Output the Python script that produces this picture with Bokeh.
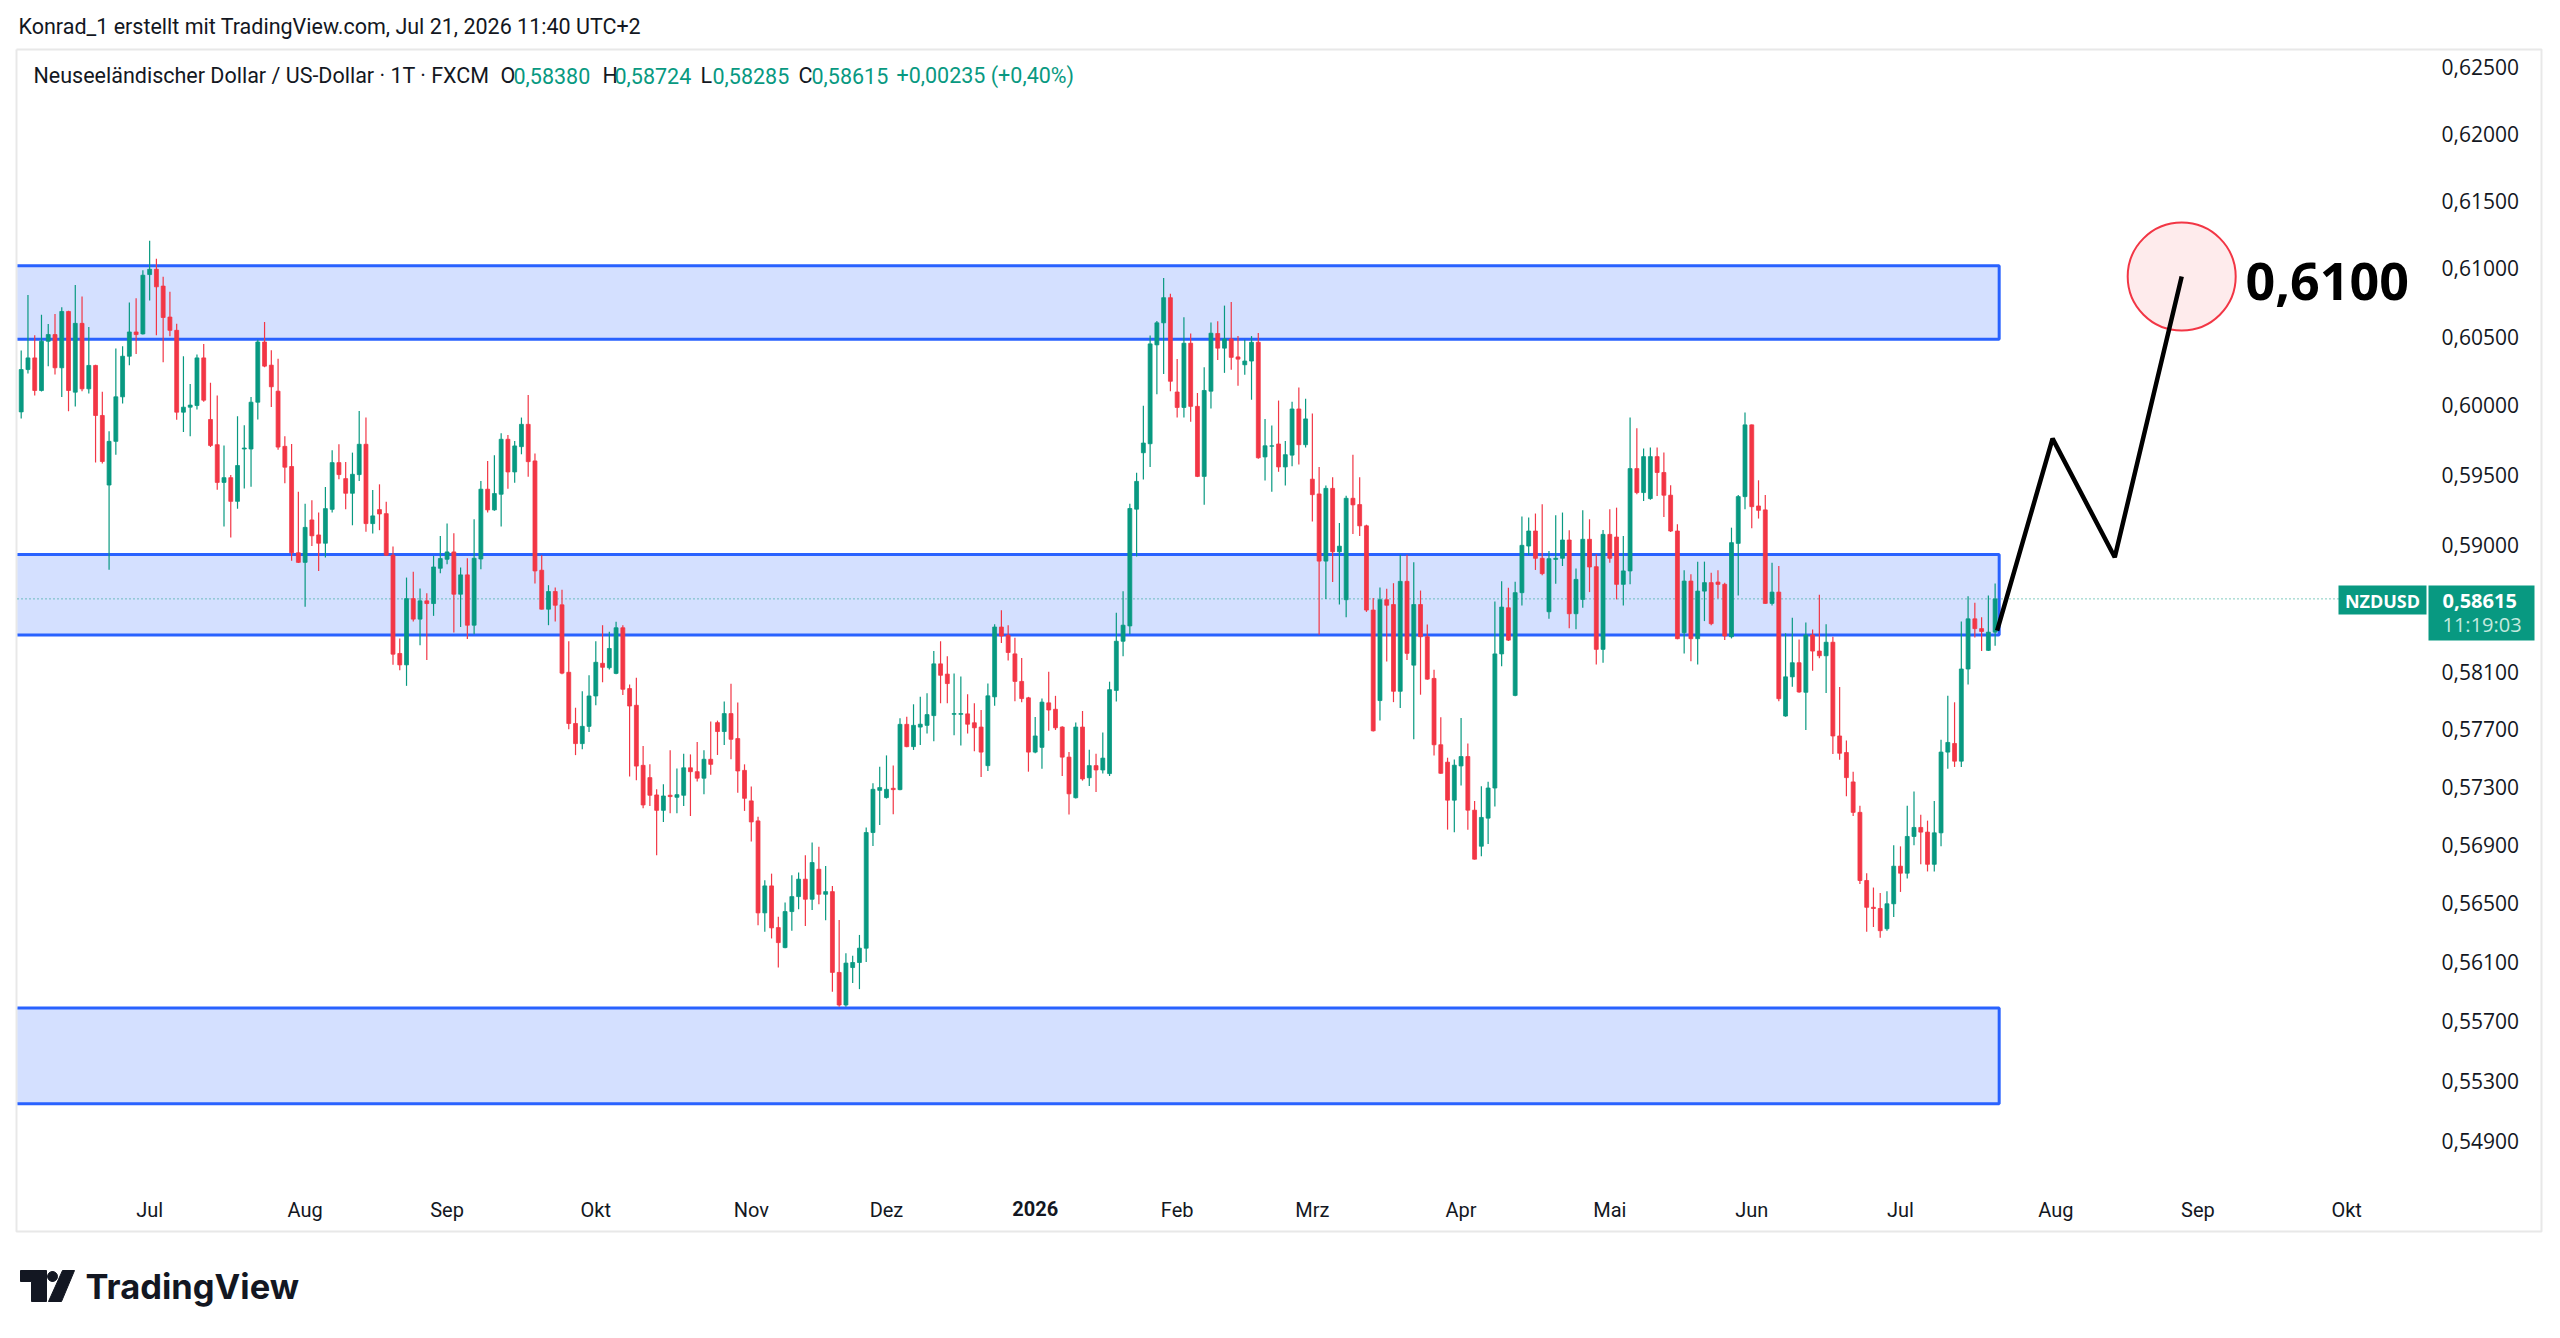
import math
import numpy as np
import pandas as pd
from bokeh.plotting import figure
from bokeh.models import (Range1d, FixedTicker, CustomJSTickFormatter, Label,
                          ColumnDataSource)
from bokeh.embed import file_html
from bokeh.resources import INLINE

# ---------------- data ----------------
first_day = "2025-06-04"
last_day = "2026-07-21"
holidays = ["2025-12-25", "2026-01-01"]
axis_end_day = "2026-10-30"

opens = [
    .59953, .60260, .60345, .60108, .60466, .60515, .60273, .60684, .60096, .60597,
    .60120, .60290, .59927, .59426, .59740, .60062, .60357, .60534, .60520, .60955,
    .60994, .60870, .60643, .60546, .59951, .59987, .59999, .60345, .59898, .59716,
    .59445, .59479, .59309, .59685, .59685, .60023, .60461, .60292, .60103, .59704,
    .59559, .58942, .58874, .59176, .59069, .59010, .59252, .59587, .59472, .59367,
    .59501, .59719, .59150, .59250, .59221, .58925, .58230, .58150, .58617, .58472,
    .58601, .58582, .58832, .58896, .58948, .58648, .58785, .58429, .58898, .59396,
    .59248, .59360, .59755, .59520, .59702, .59863, .59599, .58818, .58542, .58667,
    .58573, .58098, .57740, .57600, .57720, .57932, .58161, .58130, .58090, .58411,
    .57984, .57867, .57449, .57364, .57244, .57138, .57242, .57228, .57242, .57432,
    .57405, .57360, .57491, .57746, .57684, .57809, .57635, .57414, .57203, .57065,
    .56435, .56619, .56335, .56199, .56444, .56546, .56665, .56528, .56733, .56562,
    .56580, .56031, .55811, .56064, .56098, .56195, .56985, .57276, .57226, .57290,
    .57281, .57734, .57579, .57715, .57727, .57795, .58157, .58085, .57804, .57804,
    .57807, .57745, .57715, .57447, .57926, .58416, .58358, .58227, .58034, .57919,
    .57541, .57574, .57884, .57839, .57715, .57506, .57225, .57715, .57363, .57447,
    .57417, .57392, .57971, .58316, .58424, .59253, .59658, .59723, .60440, .60601,
    .60785, .60097, .59985, .60452, .59993, .59488, .60103, .60523, .60416, .60483,
    .60352, .60295, .60322, .60459, .59628, .59705, .59721, .59556, .59641, .59974,
    .59716, .59468, .59362, .58883, .59402, .58949, .58609, .59331, .59286, .59134,
    .58536, .57900, .58609, .58575, .57965, .58739, .58148, .58575, .58348, .58055,
    .57592, .57471, .57208, .57445, .57510, .57139, .56891, .57084, .57292, .58227,
    .58552, .57936, .58659, .58990, .59097, .58903, .58524, .58895, .58903, .59033,
    .58510, .58611, .59038, .58843, .58259, .59073, .59054, .58718, .58813, .59544,
    .59372, .59329, .59630, .59516, .59353, .59097, .58376, .58741, .58334, .58670,
    .58730, .58734, .58718, .58348, .59009, .59343, .59859, .59276, .59248, .58583,
    .58663, .57792, .58066, .58165, .57958, .58360, .58247, .58214, .58309, .57653,
    .57538, .57334, .57124, .56656, .56473, .56465, .56327, .56497, .56754, .56706,
    .56958, .57020, .56988, .56767, .56983, .57541, .57601, .57478, .58121, .58474,
    .58405, .58252, .58380,
]
highs = [
    .60398, .60805, .60510, .60660, .60592, .60665, .60715, .60690, .60878, .60793,
    .60570, .60295, .60098, .59813, .60413, .60430, .60749, .60781, .60987, .61204,
    .61071, .60938, .60829, .60594, .60357, .60156, .60369, .60447, .60164, .60072,
    .59711, .59498, .59922, .59856, .60060, .60478, .60607, .60401, .60338, .59777,
    .59721, .59377, .59292, .59317, .59229, .59412, .59676, .59719, .59592, .59659,
    .59960, .59912, .59391, .59431, .59307, .58986, .58335, .58766, .58808, .58688,
    .58655, .58920, .59062, .59150, .59081, .58837, .58903, .59181, .59455, .59599,
    .59640, .59798, .59786, .59743, .59912, .60076, .59652, .58925, .58712, .58695,
    .58679, .58316, .57850, .57965, .58077, .58316, .58429, .58383, .58454, .58428,
    .58013, .58060, .57583, .57456, .57283, .57318, .57553, .57428, .57530, .57525,
    .57611, .57553, .57753, .57760, .57893, .58018, .57886, .57456, .57302, .57094,
    .56658, .56703, .56408, .56505, .56692, .56710, .56829, .56916, .56888, .56756,
    .56619, .56387, .56161, .56143, .56285, .57020, .57325, .57439, .57518, .57448,
    .57776, .57787, .57874, .57926, .57951, .58248, .58316, .58210, .58089, .58069,
    .57944, .57881, .57834, .58019, .58436, .58535, .58429, .58341, .58198, .57926,
    .57785, .57914, .58102, .57933, .57720, .57541, .57747, .57827, .57558, .57529,
    .57678, .58032, .58517, .58669, .59291, .59514, .59998, .60509, .60614, .60929,
    .60814, .60336, .60641, .60523, .60090, .60276, .60604, .60612, .60727, .60754,
    .60504, .60478, .60504, .60526, .59902, .59854, .60035, .59742, .60027, .60129,
    .60049, .59942, .59556, .59423, .59481, .59155, .59349, .59643, .59481, .59142,
    .58622, .58695, .58687, .58726, .58928, .58928, .58875, .58674, .58434, .58115,
    .57784, .57502, .57489, .57779, .57600, .57203, .57305, .57335, .58596, .58739,
    .58694, .58737, .59200, .59193, .59222, .59288, .58955, .59210, .59229, .59102,
    .58831, .59245, .59181, .58931, .59104, .59252, .59264, .59061, .59912, .59835,
    .59688, .59695, .59695, .59659, .59424, .59145, .58817, .58789, .58879, .58879,
    .58801, .58817, .58730, .59121, .59355, .59948, .59862, .59460, .59355, .58872,
    .58848, .58372, .58482, .58329, .58448, .58398, .58644, .58436, .58348, .57995,
    .57621, .57404, .57169, .56706, .56608, .56571, .56583, .56897, .56890, .57169,
    .57268, .57107, .57067, .57203, .57626, .57933, .57888, .58456, .58634, .58588,
    .58486, .58639, .58724,
]
lows = [
    .59905, .60231, .60072, .60100, .60285, .60224, .60060, .59958, .59992, .60103,
    .60086, .59588, .59580, .58821, .59643, .60014, .60292, .60374, .60515, .60764,
    .60510, .60314, .60503, .59897, .59808, .59777, .59970, .60026, .59699, .59392,
    .59130, .59050, .59256, .59401, .59413, .59898, .60277, .59989, .59680, .59438,
    .58886, .58870, .58559, .58990, .58813, .58908, .59229, .59467, .59252, .59138,
    .59455, .59091, .59079, .59103, .58920, .58150, .58113, .58003, .58455, .58288,
    .58185, .58495, .58797, .58860, .58377, .58417, .58331, .58366, .58825, .59229,
    .59241, .59129, .59400, .59443, .59647, .59486, .58724, .58540, .58429, .58455,
    .58085, .57700, .57520, .57560, .57680, .57867, .58028, .58118, .58085, .57939,
    .57371, .57346, .57152, .57168, .56829, .57058, .57117, .57117, .57168, .57099,
    .57337, .57249, .57383, .57521, .57590, .57491, .57260, .57134, .56923, .56351,
    .56306, .56261, .56064, .56195, .56313, .56460, .56346, .56455, .56494, .56385,
    .55900, .55800, .55800, .55959, .55918, .56102, .56893, .57037, .57219, .57111,
    .57276, .57575, .57556, .57591, .57670, .57616, .57881, .57881, .57658, .57586,
    .57670, .57546, .57368, .57410, .57864, .58303, .58181, .57896, .57889, .57405,
    .57533, .57425, .57690, .57695, .57375, .57109, .57220, .57343, .57306, .57264,
    .57392, .57375, .57894, .58210, .58366, .58916, .59465, .59555, .60081, .60228,
    .60103, .59913, .59913, .59882, .59483, .59284, .59977, .60330, .60236, .60258,
    .60143, .60223, .60041, .59614, .59458, .59378, .59521, .59423, .59561, .59574,
    .59695, .59165, .58361, .58614, .58734, .58575, .58486, .59075, .59061, .58523,
    .57685, .57761, .58174, .57889, .57848, .58185, .57630, .57941, .58045, .57518,
    .57390, .57005, .56987, .57310, .57005, .56800, .56822, .56906, .57165, .58141,
    .58317, .57930, .58569, .58924, .58820, .58782, .58475, .58722, .58848, .58407,
    .58400, .58552, .58663, .58153, .58165, .58872, .58611, .58569, .58718, .59360,
    .59312, .59320, .59348, .59198, .59090, .58330, .58230, .58176, .58153, .58458,
    .58428, .58618, .58324, .58336, .58639, .59252, .59116, .59186, .58580, .58569,
    .57896, .57787, .57997, .57955, .57695, .58109, .58196, .57953, .57528, .57488,
    .57235, .57099, .56632, .56307, .56339, .56266, .56314, .56407, .56578, .56669,
    .56897, .56767, .56718, .56718, .56890, .57426, .57438, .57438, .58013, .58343,
    .58247, .58247, .58285,
]
closes = [
    .60260, .60345, .60108, .60466, .60515, .60273, .60684, .60108, .60597, .60120,
    .60290, .59927, .59595, .59740, .60062, .60357, .60534, .60515, .60950, .60994,
    .60865, .60640, .60546, .59951, .59987, .60002, .60345, .60038, .59711, .59445,
    .59479, .59309, .59566, .59692, .60023, .60461, .60285, .60135, .59699, .59554,
    .58942, .58874, .59123, .59063, .59010, .59257, .59587, .59501, .59367, .59503,
    .59719, .59150, .59205, .59219, .58925, .58225, .58150, .58617, .58472, .58601,
    .58582, .58841, .58901, .58948, .58648, .58785, .58429, .58903, .59396, .59248,
    .59365, .59755, .59520, .59707, .59863, .59594, .58813, .58542, .58667, .58570,
    .58092, .57740, .57600, .57720, .57932, .58168, .58133, .58265, .58411, .57979,
    .57862, .57444, .57175, .57242, .57138, .57237, .57233, .57246, .57432, .57405,
    .57360, .57491, .57456, .57684, .57809, .57630, .57410, .57221, .57058, .56435,
    .56619, .56333, .56233, .56444, .56546, .56665, .56528, .56779, .56562, .56580,
    .56031, .55811, .56094, .56098, .56195, .56985, .57283, .57295, .57283, .57281,
    .57734, .57579, .57727, .57735, .57802, .58157, .58077, .58019, .57809, .57809,
    .57735, .57710, .57541, .57933, .58416, .58353, .58237, .58034, .57914, .57541,
    .57653, .57889, .57834, .57710, .57506, .57252, .57715, .57355, .57447, .57417,
    .57499, .57976, .58316, .58429, .59258, .59452, .59728, .60447, .60601, .60785,
    .60175, .59985, .60452, .59993, .59488, .60108, .60525, .60416, .60483, .60349,
    .60336, .60322, .60459, .59622, .59708, .59708, .59556, .59644, .59974, .59716,
    .59902, .59357, .58883, .59402, .58949, .58989, .59331, .59284, .59134, .58536,
    .57689, .58609, .58570, .57965, .58739, .58231, .58575, .58348, .58050, .57592,
    .57394, .57208, .57450, .57510, .57139, .56802, .57089, .57292, .58227, .58557,
    .58324, .58659, .58995, .59097, .58903, .58794, .58900, .58903, .59033, .58510,
    .58753, .59038, .58841, .58259, .59073, .58903, .58718, .58813, .59544, .59372,
    .59630, .59630, .59516, .59353, .59097, .58334, .58741, .58334, .58670, .58730,
    .58440, .58718, .58353, .59014, .59343, .59859, .59271, .59245, .58583, .58663,
    .57913, .58066, .58165, .57960, .58360, .58247, .58214, .58309, .57653, .57533,
    .57364, .57124, .56656, .56473, .56465, .56314, .56497, .56754, .56706, .56958,
    .57020, .56988, .56767, .56983, .57541, .57608, .57478, .58121, .58474, .58405,
    .58385, .58380, .58615,
]

price_ticks = [0.625, 0.620, 0.615, 0.610, 0.605, 0.600, 0.595, 0.590,
               0.581, 0.577, 0.573, 0.569, 0.565, 0.561, 0.557, 0.553, 0.549]
month_names = {1: "2026", 2: "Feb", 3: "Mrz", 4: "Apr", 5: "Mai", 6: "Jun",
               7: "Jul", 8: "Aug", 9: "Sep", 10: "Okt", 11: "Nov", 12: "Dez"}

zone_tops = [0.6102, 0.5893, 0.5579]
zone_bottoms = [0.6048, 0.5836, 0.5515]
zone_end_bar = 292.6

projection_bars = [292.3, 300.5, 309.7, 319.6]
projection_prices = [0.5839, 0.5976, 0.5891, 0.6094]
target_text = "0,6100"
last_price = 0.58615
last_price_text = "0,58615"
countdown_text = "11:19:03"
symbol_text = "NZDUSD"

title_text = "Konrad_1 erstellt mit TradingView.com, Jul 21, 2026 11:40 UTC+2"
legend_texts = ["Neuseeländischer Dollar / US-Dollar · 1T · FXCM",
                "O", "0,58380", "H", "0,58724", "L", "0,58285", "C", "0,58615",
                "+0,00235 (+0,40%)"]
legend_is_value = [False, False, True, False, True, False, True, False, True, True]

# ---------------- dates / axis ticks ----------------
trade_days = pd.bdate_range(first_day, last_day)
trade_days = trade_days[~trade_days.isin(pd.to_datetime(holidays))]
future_days = pd.bdate_range(pd.Timestamp(last_day) + pd.Timedelta(days=1), axis_end_day)
all_days = trade_days.append(future_days)
n = len(opens)
month_idx, month_lab = [], []
for i in range(1, len(all_days)):
    if all_days[i].month != all_days[i - 1].month:
        month_idx.append(i)
        month_lab.append(month_names[all_days[i].month])

# ---------------- layout (pixel geometry of the page) ----------------
W, H = 2560, 1338
BAR0_PX, BAR_PX = 20.7, 6.76          # screen x of bar 0, px per bar
LOG_A, LOG_K = -3827.3, 8285.0        # screen y = LOG_A - LOG_K * ln(price)
GREEN, RED, TXT = "#089981", "#f23645", "#131722"

def X(px):
    return (px - BAR0_PX) / BAR_PX

def Y(py):
    return math.exp(-(py - LOG_A) / LOG_K)

p = figure(width=W, height=H, output_backend="svg", toolbar_location=None,
           y_axis_type="log", y_axis_location="right",
           x_range=Range1d(X(0), X(W)), y_range=Range1d(Y(H), Y(0)),
           min_border_left=0, min_border_right=0, min_border_top=0, min_border_bottom=0)
p.outline_line_color = None
p.xgrid.visible = False
p.ygrid.visible = False
p.background_fill_color = "white"
p.border_fill_color = "white"

# chart box border
box_l, box_r, box_t, box_b = 16, 2541, 49, 1231
p.multi_line(xs=[[X(box_l), X(box_r), X(box_r), X(box_l), X(box_l)]],
             ys=[[Y(box_t), Y(box_t), Y(box_b), Y(box_b), Y(box_t)]],
             line_color="#e8e8e8", line_width=2)

# zones
zl = X(17)
p.quad(left=[zl] * 3, right=[zone_end_bar] * 3, top=zone_tops, bottom=zone_bottoms,
       fill_color="#2962ff", fill_alpha=0.2, line_color=None)
zx, zy = [], []
for t, b in zip(zone_tops, zone_bottoms):
    zx.append([zl, zone_end_bar, zone_end_bar, zl])
    zy.append([t, t, b, b])
p.multi_line(xs=zx, ys=zy, line_color="#2962ff", line_width=3)

# current price dotted line
p.segment(x0=[zl], y0=[last_price], x1=[X(2338)], y1=[last_price],
          line_color=GREEN, line_width=1, line_dash="1 3")

# candles
x = np.arange(n)
o = np.array(opens); c = np.array(closes)
cols = [GREEN if cc >= oo else RED for oo, cc in zip(o, c)]
src = ColumnDataSource(dict(x=x, top=np.maximum(o, c), bottom=np.minimum(o, c),
                            high=highs, low=lows, color=cols))
p.segment(x0="x", y0="low", x1="x", y1="high", color="color", line_width=1.2, source=src)
p.vbar(x="x", width=0.58, top="top", bottom="bottom", fill_color="color",
       line_color="color", line_width=0.8, source=src)

# projection
p.scatter([projection_bars[-1]], [projection_prices[-1]], marker="circle", size=108,
          fill_color=RED, fill_alpha=0.1, line_color=RED, line_width=2)
p.line(projection_bars, projection_prices, line_color="black", line_width=4.5)
p.add_layout(Label(x=X(2245), y=Y(281), text=target_text, text_font="Open Sans",
                   text_font_style="bold", text_font_size="52px", text_color="black",
                   text_baseline="middle", text_align="left"))

# axes (drawn at fixed locations inside the canvas)
p.xaxis.fixed_location = Y(1190)
p.yaxis.fixed_location = X(2428)
p.xaxis.ticker = FixedTicker(ticks=[i for i, l in zip(month_idx, month_lab) if l != "2026"],
                             minor_ticks=[])
p.xaxis.major_label_overrides = {i: l for i, l in zip(month_idx, month_lab)}
p.yaxis.ticker = FixedTicker(ticks=price_ticks, minor_ticks=[])
p.yaxis.formatter = CustomJSTickFormatter(code="return tick.toFixed(5).replace('.', ',');")
for ax in (p.xaxis[0], p.yaxis[0]):
    ax.axis_line_color = None
    ax.major_tick_line_color = None
    ax.minor_tick_line_color = None
    ax.major_tick_out = 0
    ax.major_tick_in = 0
    ax.minor_tick_out = 0
    ax.minor_tick_in = 0
    ax.major_label_text_color = TXT
p.xaxis.major_label_text_font = "Roboto"
p.xaxis.major_label_text_font_size = "20px"
p.xaxis.major_label_standoff = 7
p.yaxis.major_label_text_font = "Open Sans"
p.yaxis.major_label_text_font_size = "21px"
p.yaxis.major_label_standoff = 13

# bold year label on the time axis
for i, l in zip(month_idx, month_lab):
    if l == "2026":
        p.add_layout(Label(x=i, y=Y(1200), text=l, text_font="Roboto",
                           text_font_style="bold", text_font_size="20px",
                           text_color=TXT, text_align="center", text_baseline="top"))

# title & legend line
p.add_layout(Label(x=X(18), y=Y(26), text=title_text, text_font="Roboto",
                   text_font_size="21.5px", text_color=TXT, text_baseline="middle"))
legend_px = [33, 500, 513, 602, 614, 700, 712, 798, 811, 896]
for txt, isval, lx in zip(legend_texts, legend_is_value, legend_px):
    p.add_layout(Label(x=X(lx), y=Y(75), text=txt, text_font="Roboto",
                       text_font_size="21.5px", text_color=GREEN if isval else TXT,
                       text_baseline="middle"))

# price tags
p.quad(left=[X(2338)], right=[X(2426)], top=[Y(585)], bottom=[Y(614)],
       fill_color=GREEN, line_color=None)
p.quad(left=[X(2428)], right=[X(2534)], top=[Y(585)], bottom=[Y(640)],
       fill_color=GREEN, line_color=None)
p.add_layout(Label(x=X(2382), y=Y(600), text=symbol_text, text_font="Open Sans",
                   text_font_style="bold", text_font_size="18px", text_color="white",
                   text_align="center", text_baseline="middle"))
p.add_layout(Label(x=X(2442), y=Y(600), text=last_price_text, text_font="Open Sans",
                   text_font_style="bold", text_font_size="20px", text_color="white",
                   text_align="left", text_baseline="middle"))
p.add_layout(Label(x=X(2442), y=Y(624), text=countdown_text, text_font="Open Sans",
                   text_font_size="20px", text_color="#c4e9df",
                   text_align="left", text_baseline="middle"))

# TradingView footer
p.add_layout(Label(x=X(85), y=Y(1286), text="TradingView", text_font="Inter",
                   text_font_style="bold", text_font_size="34.5px",
                   text_color=TXT, text_baseline="middle"))
logo_shapes = [
    [(20, 1270), (46, 1270), (46, 1301), (31, 1301), (31, 1281), (20, 1281)],
    [(52 + 5 * math.cos(a), 1276 + 5 * math.sin(a)) for a in np.linspace(0, 2 * math.pi, 16)],
    [(62, 1270), (74, 1270), (61, 1301), (48, 1301)],
]
p.patches(xs=[[X(a) for a, b in s] for s in logo_shapes],
          ys=[[Y(b) for a, b in s] for s in logo_shapes],
          fill_color=TXT, line_color=TXT, line_width=1)

open("out.html", "w").write(file_html(p, INLINE))
